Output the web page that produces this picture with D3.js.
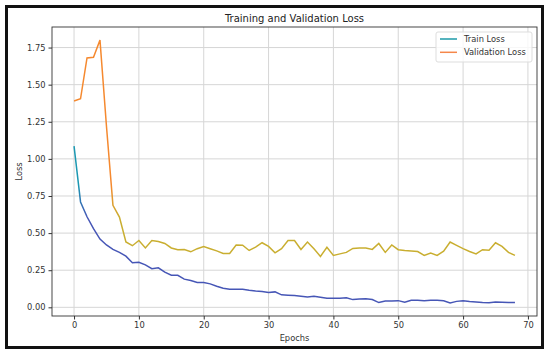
<!DOCTYPE html>
<html>
<head>
<meta charset="utf-8">
<script src="https://cdn.jsdelivr.net/npm/d3@7"></script>
<style>
  body { margin: 0; background: #fff; }
  svg { display: block; font-family: "DejaVu Sans", sans-serif; }
</style>
</head>
<body>
<div id="chart"></div>
<script>
// loss values, epochs 0..68
const trainLoss = [
  1.086, 0.71, 0.61, 0.53, 0.46, 0.42, 0.39, 0.37, 0.345, 0.30,
  0.304, 0.286, 0.26, 0.266, 0.237, 0.216, 0.216, 0.19, 0.18, 0.167,
  0.167, 0.158, 0.142, 0.128, 0.122, 0.122, 0.122, 0.115, 0.11, 0.106,
  0.10, 0.104, 0.084, 0.082, 0.08, 0.075, 0.07, 0.075, 0.068, 0.061,
  0.061, 0.061, 0.065, 0.052, 0.056, 0.058, 0.052, 0.032, 0.043, 0.043,
  0.045, 0.034, 0.048, 0.047, 0.045, 0.048, 0.048, 0.044, 0.03, 0.04,
  0.045, 0.04, 0.036, 0.032, 0.03, 0.036, 0.034, 0.032, 0.032
];
const valLoss = [
  1.39, 1.405, 1.68, 1.685, 1.80, 1.22, 0.687, 0.608, 0.44, 0.415,
  0.45, 0.40, 0.45, 0.444, 0.43, 0.40, 0.388, 0.39, 0.374, 0.395,
  0.41, 0.395, 0.38, 0.363, 0.363, 0.42, 0.418, 0.383, 0.405, 0.435,
  0.41, 0.367, 0.395, 0.45, 0.45, 0.39, 0.44, 0.395, 0.343, 0.405,
  0.35, 0.36, 0.37, 0.397, 0.40, 0.40, 0.39, 0.43, 0.37, 0.42,
  0.388, 0.383, 0.38, 0.376, 0.35, 0.365, 0.35, 0.378, 0.44, 0.417,
  0.395, 0.376, 0.36, 0.388, 0.385, 0.435, 0.41, 0.37, 0.35
];
const xTicks = [0, 10, 20, 30, 40, 50, 60, 70];
const yTicks = [0, 0.25, 0.5, 0.75, 1.0, 1.25, 1.5, 1.75];
const seriesNames = ["Train Loss", "Validation Loss"];

const W = 550, H = 354;
const plot = { left: 52, right: 537, top: 27, bottom: 316 };

const svg = d3.select("#chart").append("svg")
    .attr("width", W)
    .attr("height", H);

svg.append("rect").attr("width", W).attr("height", H).attr("fill", "#fff");

// frame round the whole picture
svg.append("rect")
    .attr("x", 6.5).attr("y", 6.5)
    .attr("width", 536).attr("height", 341)
    .attr("fill", "none")
    .attr("stroke", "#111")
    .attr("stroke-width", 3);

const epochs = d3.range(trainLoss.length);
const allVals = trainLoss.concat(valLoss);
const yMin = d3.min(allVals), yMax = d3.max(allVals);
const xPad = (epochs.length - 1) * 0.05, yPad = (yMax - yMin) * 0.05;

const x = d3.scaleLinear()
    .domain([-xPad, epochs.length - 1 + xPad])
    .range([plot.left, plot.right]);
const y = d3.scaleLinear()
    .domain([yMin - yPad, yMax + yPad])
    .range([plot.bottom, plot.top]);

// grid
const grid = svg.append("g").attr("stroke", "#d6d6d6").attr("stroke-width", 1);
grid.selectAll("line.gx").data(xTicks).enter().append("line")
    .attr("x1", d => x(d)).attr("x2", d => x(d))
    .attr("y1", plot.top).attr("y2", plot.bottom);
grid.selectAll("line.gy").data(yTicks).enter().append("line")
    .attr("y1", d => y(d)).attr("y2", d => y(d))
    .attr("x1", plot.left).attr("x2", plot.right);

// colour shifts a bit along the lines in the picture
const defs = svg.append("defs");
function grad(id, top, bottom) {
    const g = defs.append("linearGradient")
        .attr("id", id)
        .attr("gradientUnits", "userSpaceOnUse")
        .attr("x1", 0).attr("x2", 0)
        .attr("y1", y(1.1)).attr("y2", y(0.6));
    g.append("stop").attr("offset", 0).attr("stop-color", top);
    g.append("stop").attr("offset", 0.55).attr("stop-color", top);
    g.append("stop").attr("offset", 1).attr("stop-color", bottom);
}
grad("trainGrad", "#1c98b2", "#4656b6");
grad("valGrad", "#f5892f", "#c9ae30");

const line = d3.line()
    .x((d, i) => x(i))
    .y(d => y(d));

svg.append("path")
    .datum(valLoss)
    .attr("d", line)
    .attr("fill", "none")
    .attr("stroke", "url(#valGrad)")
    .attr("stroke-width", 1.5);

svg.append("path")
    .datum(trainLoss)
    .attr("d", line)
    .attr("fill", "none")
    .attr("stroke", "url(#trainGrad)")
    .attr("stroke-width", 1.5);

// axes
const xAxis = svg.append("g")
    .attr("transform", `translate(0,${plot.bottom})`)
    .call(d3.axisBottom(x).tickValues(xTicks).tickSize(3.5).tickPadding(3));
const yAxis = svg.append("g")
    .attr("transform", `translate(${plot.left},0)`)
    .call(d3.axisLeft(y).tickValues(yTicks).tickSize(3.5).tickPadding(3)
        .tickFormat(d3.format(".2f")));
[xAxis, yAxis].forEach(a => {
    a.select(".domain").remove();
    a.selectAll("line").attr("stroke", "#333");
    a.selectAll("text")
        .attr("fill", "#333")
        .style("font-size", "8.3px")
        .style("font-family", "DejaVu Sans, sans-serif");
});

svg.append("rect")
    .attr("x", plot.left).attr("y", plot.top)
    .attr("width", plot.right - plot.left)
    .attr("height", plot.bottom - plot.top)
    .attr("fill", "none")
    .attr("stroke", "#333")
    .attr("stroke-width", 0.9);

// titles
svg.append("text")
    .attr("x", (plot.left + plot.right) / 2)
    .attr("y", 22)
    .attr("text-anchor", "middle")
    .attr("font-size", "10px")
    .attr("fill", "#222")
    .text("Training and Validation Loss");

svg.append("text")
    .attr("x", (plot.left + plot.right) / 2)
    .attr("y", 341)
    .attr("text-anchor", "middle")
    .attr("font-size", "8.3px")
    .attr("fill", "#333")
    .text("Epochs");

svg.append("text")
    .attr("transform", `translate(22,${(plot.top + plot.bottom) / 2}) rotate(-90)`)
    .attr("text-anchor", "middle")
    .attr("font-size", "8.3px")
    .attr("fill", "#333")
    .text("Loss");

// legend
const legend = svg.append("g").attr("transform", "translate(436,32)");
legend.append("rect")
    .attr("width", 96).attr("height", 30).attr("rx", 2)
    .attr("fill", "#fff").attr("fill-opacity", 0.8)
    .attr("stroke", "#ddd");
const legendColors = ["#1c9aa8", "#f5874a"];
const items = legend.selectAll("g.item").data(seriesNames).enter().append("g")
    .attr("transform", (d, i) => `translate(0,${7 + i * 13.3})`);
items.append("line")
    .attr("x1", 4).attr("x2", 21)
    .attr("stroke", (d, i) => legendColors[i])
    .attr("stroke-width", 1.5);
items.append("text")
    .attr("x", 28).attr("y", 3)
    .attr("font-size", "8.3px")
    .attr("fill", "#333")
    .text(d => d);
</script>
</body>
</html>
